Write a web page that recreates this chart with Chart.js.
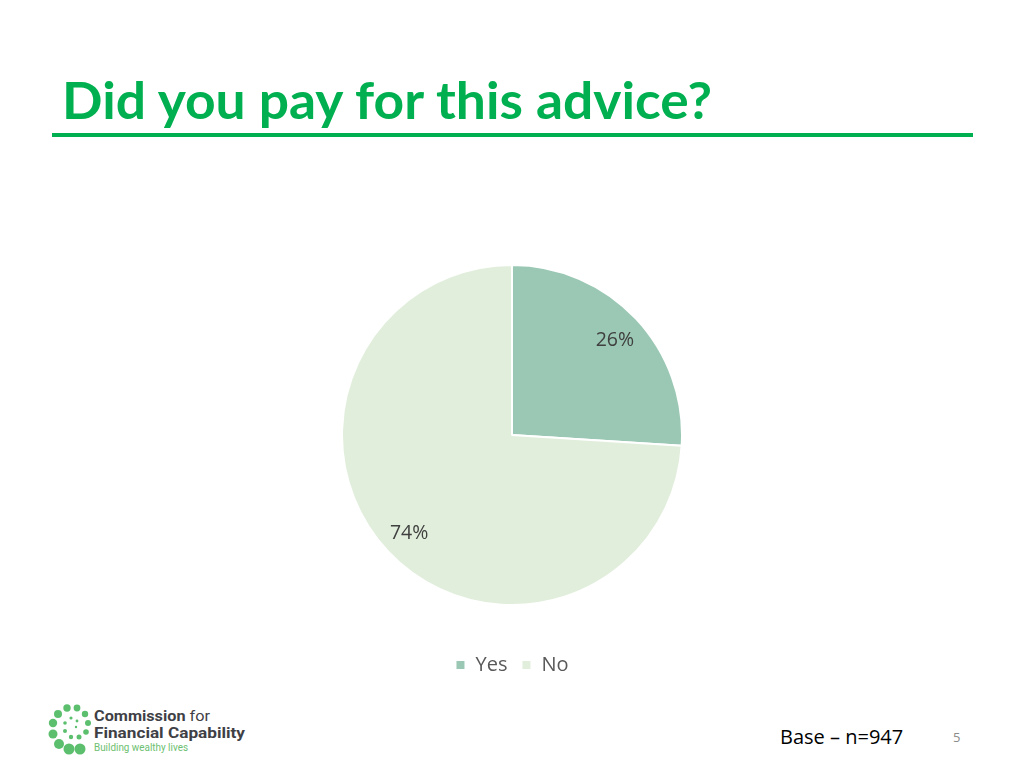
<!DOCTYPE html>
<html>
<head>
<meta charset="utf-8">
<script src="https://cdn.jsdelivr.net/npm/chart.js@4"></script>
<style>
  html, body { margin:0; padding:0; background:#fff; }
  body { width:1024px; height:768px; position:relative; overflow:hidden; font-family: "Open Sans", Lato, sans-serif; }
  #title { position:absolute; left:62px; top:69px; font-family: Lato, sans-serif; font-weight:700; font-size:52px; line-height:60px; color:#00B050; white-space:nowrap; transform-origin:0 0; }
  #rule { position:absolute; left:52px; top:133px; width:921px; height:4px; background:#00B050; }
  #chartBox { position:absolute; left:341px; top:229px; width:342px; height:456px; }
  #base { position:absolute; left:780px; top:723px; font-size:20px; line-height:27px; color:#000; white-space:nowrap; }
  #page { position:absolute; left:953px; top:728px; font-size:13px; line-height:18px; color:#8c8c8c; }
  #logo { position:absolute; left:48px; top:702px; }
  .lt { position:absolute; left:94px; font-family: Roboto, sans-serif; white-space:nowrap; line-height:normal; transform-origin:0 0; }
  #lt1 { top:708px; font-size:14px; color:#3f3f46; }
  #lt1 b { font-weight:700; }
  #lt2 { top:724.5px; font-size:14px; color:#3f3f46; font-weight:700; }
  #lt3 { top:741px; font-size:11px; color:#6cc070; }
</style>
</head>
<body>
<div id="title">Did you pay for this advice?</div>
<div id="rule"></div>
<div id="chartBox"><canvas id="c"></canvas></div>
<svg id="logo" width="46" height="54" viewBox="0 0 46 54">
  <g fill="#5cbf6e">
    <circle cx="21" cy="47" r="5.5"/>
    <circle cx="32" cy="47" r="5.5"/>
    <circle cx="11" cy="42" r="5"/>
    <circle cx="5" cy="32" r="4.5"/>
    <circle cx="5" cy="21" r="4.2"/>
    <circle cx="10" cy="12" r="4"/>
    <circle cx="19" cy="6" r="3.7"/>
    <circle cx="29" cy="6" r="3.4"/>
    <circle cx="37" cy="12" r="3.2"/>
    <circle cx="40" cy="21" r="3"/>
    <circle cx="38" cy="30" r="2.8"/>
    <circle cx="31" cy="35" r="2.5"/>
    <circle cx="23" cy="35" r="2.2"/>
    <circle cx="17" cy="29" r="2"/>
    <circle cx="17" cy="21" r="1.8"/>
    <circle cx="23" cy="16" r="1.6"/>
    <circle cx="29" cy="19" r="1.4"/>
    <circle cx="28" cy="25" r="1.2"/>
  </g>
</svg>
<div class="lt" id="lt1"><b>Commission</b> for</div>
<div class="lt" id="lt2">Financial Capability</div>
<div class="lt" id="lt3">Building wealthy lives</div>
<div id="base">Base – n=947</div>
<div id="page">5</div>
<script>
const categories = ["Yes", "No"];
const values = [26, 74];
const valueLabels = ["26%", "74%"];
const sliceColors = ["#9AC8B4", "#E1EEDC"];

// fit text widths to the reference
function fitWidth(id, target) {
  const el = document.getElementById(id);
  const w = el.getBoundingClientRect().width;
  el.style.transform = 'scaleX(' + (target / w) + ')';
}
fitWidth('title', 650);
fitWidth('lt1', 116);
fitWidth('lt2', 151);
fitWidth('lt3', 94);

const sliceLabels = {
  id: 'sliceLabels',
  afterDatasetsDraw(chart) {
    const ctx = chart.ctx;
    const meta = chart.getDatasetMeta(0);
    ctx.save();
    ctx.font = '19.5px "Open Sans", Lato, sans-serif';
    ctx.fillStyle = '#404040';
    ctx.textAlign = 'center';
    ctx.textBaseline = 'middle';
    meta.data.forEach((arc, i) => {
      const p = arc.getProps(['x','y','startAngle','endAngle','outerRadius'], true);
      const mid = (p.startAngle + p.endAngle) / 2;
      const r = p.outerRadius * 0.83;
      ctx.fillText(valueLabels[i], p.x + Math.cos(mid) * r, p.y + Math.sin(mid) * r + 2);
    });
    ctx.restore();
  }
};

new Chart(document.getElementById('c'), {
  type: 'pie',
  data: {
    labels: categories,
    datasets: [{
      data: values,
      backgroundColor: sliceColors,
      borderColor: '#ffffff',
      borderWidth: 2
    }]
  },
  options: {
    responsive: true,
    maintainAspectRatio: false,
    animation: false,
    layout: { padding: 0 },
    plugins: {
      legend: {
        position: 'bottom',
        labels: {
          boxWidth: 10,
          boxHeight: 10,
          padding: 14,
          color: '#595959',
          font: { size: 20, family: '"Open Sans", Lato, sans-serif' }
        }
      },
      tooltip: { enabled: false }
    }
  },
  plugins: [sliceLabels]
});
</script>
</body>
</html>
